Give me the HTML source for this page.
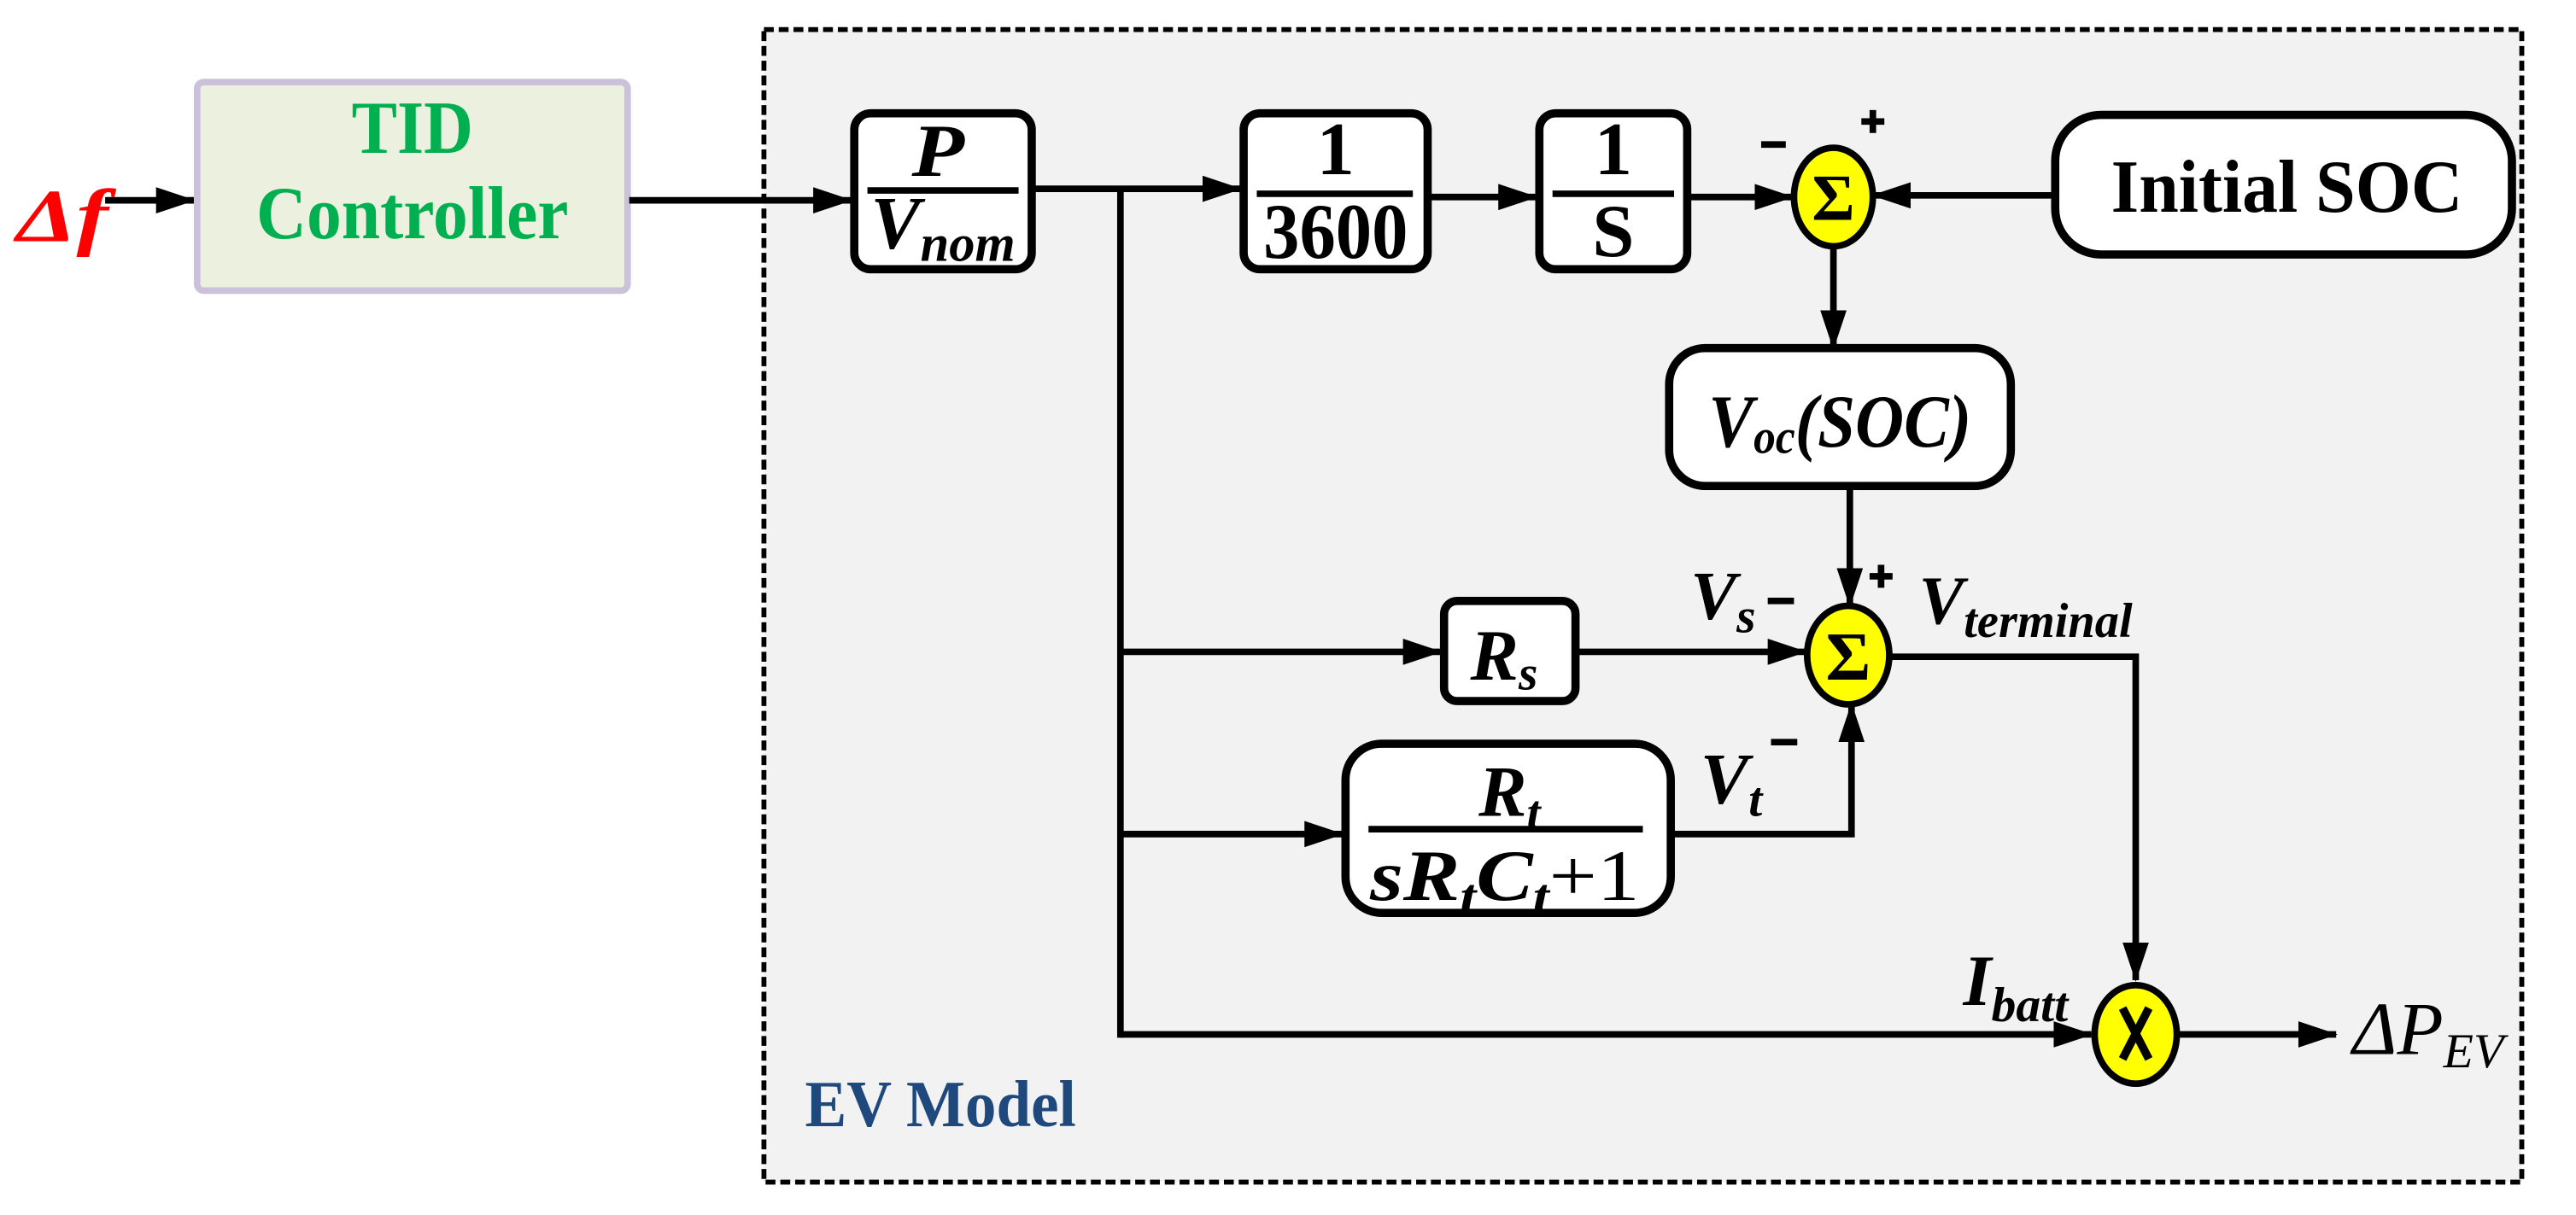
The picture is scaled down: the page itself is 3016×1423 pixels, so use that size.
<!DOCTYPE html>
<html><head><meta charset="utf-8"><style>html,body{margin:0;padding:0;background:#fff}svg{display:block}text{font-family:"Liberation Serif",serif;font-weight:bold}</style></head>
<body>
<svg width="3016" height="1423" viewBox="0 0 1568 740" preserveAspectRatio="none" xmlns="http://www.w3.org/2000/svg">
<defs>
<marker id="a" markerWidth="24" markerHeight="16" refX="23" refY="8" orient="auto" markerUnits="userSpaceOnUse"><path d="M0,0 L24,8 L0,16 Z" fill="#000"/></marker>
</defs>
<rect width="1568" height="740" fill="#fff"/>
<rect x="465" y="18" width="1070" height="702" fill="#f2f2f2" stroke="#000" stroke-width="3" stroke-dasharray="6,3"/>
<text x="490" y="686" fill="#1f497d" font-size="40" textLength="165" lengthAdjust="spacingAndGlyphs">EV Model</text>

<text x="10" y="147" fill="#f00" font-size="46" font-style="italic" textLength="56" lengthAdjust="spacingAndGlyphs">Δf</text>
<line x1="64" y1="122" x2="118" y2="122" stroke="#000" stroke-width="4" marker-end="url(#a)"/>

<rect x="120" y="50" width="262" height="127" rx="4" fill="#ebf1de" stroke="#ccc1da" stroke-width="4"/>
<text x="251" y="93" fill="#00b050" font-size="46" text-anchor="middle" textLength="74" lengthAdjust="spacingAndGlyphs">TID</text>
<text x="251" y="145" fill="#00b050" font-size="46" text-anchor="middle" textLength="190" lengthAdjust="spacingAndGlyphs">Controller</text>
<line x1="383" y1="122" x2="518" y2="122" stroke="#000" stroke-width="4" marker-end="url(#a)"/>

<rect x="520" y="69" width="108" height="95" rx="10" fill="#fff" stroke="#000" stroke-width="5"/>
<text x="555" y="107" font-size="46" font-style="italic" textLength="32" lengthAdjust="spacingAndGlyphs">P</text>
<line x1="528" y1="116" x2="620" y2="116" stroke="#000" stroke-width="4"/>
<text x="530" y="151" font-size="46" font-style="italic" textLength="88" lengthAdjust="spacingAndGlyphs">V<tspan font-size="32" dy="8">nom</tspan></text>

<line x1="630" y1="115" x2="755" y2="115" stroke="#000" stroke-width="4" marker-end="url(#a)"/>
<line x1="682" y1="115" x2="682" y2="632" stroke="#000" stroke-width="4"/>

<rect x="757" y="69" width="112" height="95" rx="10" fill="#fff" stroke="#000" stroke-width="5"/>
<text x="813" y="106" font-size="46" text-anchor="middle" font-weight="normal">1</text>
<line x1="765" y1="118" x2="860" y2="118" stroke="#000" stroke-width="4"/>
<text x="813" y="157" font-size="48" text-anchor="middle" textLength="88" lengthAdjust="spacingAndGlyphs">3600</text>
<line x1="869" y1="120" x2="935" y2="120" stroke="#000" stroke-width="4" marker-end="url(#a)"/>

<rect x="937" y="69" width="90" height="95" rx="10" fill="#fff" stroke="#000" stroke-width="5"/>
<text x="982" y="106" font-size="46" text-anchor="middle" font-weight="normal">1</text>
<line x1="945" y1="118" x2="1019" y2="118" stroke="#000" stroke-width="4"/>
<text x="982" y="156" font-size="46" text-anchor="middle">S</text>
<line x1="1027" y1="120" x2="1091" y2="120" stroke="#000" stroke-width="4" marker-end="url(#a)"/>

<ellipse cx="1116" cy="120" rx="24" ry="30" fill="#ff0" stroke="#000" stroke-width="4"/>
<text x="1116" y="134" font-size="40" text-anchor="middle">Σ</text>
<line x1="1072" y1="88" x2="1087" y2="88" stroke="#000" stroke-width="4"/>
<line x1="1133" y1="74" x2="1147" y2="74" stroke="#000" stroke-width="4"/>
<line x1="1140" y1="67" x2="1140" y2="81" stroke="#000" stroke-width="4"/>

<rect x="1251" y="70" width="278" height="85" rx="28" fill="#fff" stroke="#000" stroke-width="5"/>
<text x="1392" y="129" font-size="46" text-anchor="middle" textLength="214" lengthAdjust="spacingAndGlyphs">Initial SOC</text>
<line x1="1250" y1="119" x2="1140" y2="119" stroke="#000" stroke-width="4" marker-end="url(#a)"/>

<line x1="1116" y1="150" x2="1116" y2="212" stroke="#000" stroke-width="4" marker-end="url(#a)"/>
<rect x="1016" y="212" width="208" height="84" rx="22" fill="#fff" stroke="#000" stroke-width="5"/>
<text x="1040" y="272" font-size="46" font-style="italic" textLength="160" lengthAdjust="spacingAndGlyphs">V<tspan font-size="30" dy="4">oc</tspan><tspan dy="-4">(SOC)</tspan></text>
<line x1="1126" y1="296" x2="1126" y2="369" stroke="#000" stroke-width="4" marker-end="url(#a)"/>

<ellipse cx="1125" cy="399" rx="25" ry="30" fill="#ff0" stroke="#000" stroke-width="4"/>
<text x="1125" y="414" font-size="42" text-anchor="middle">Σ</text>
<line x1="1076" y1="366" x2="1092" y2="366" stroke="#000" stroke-width="4"/>
<line x1="1138" y1="351" x2="1152" y2="351" stroke="#000" stroke-width="4"/>
<line x1="1145" y1="344" x2="1145" y2="358" stroke="#000" stroke-width="4"/>
<text x="1029" y="377" font-size="42" font-style="italic">V<tspan font-size="30" dy="8">s</tspan></text>
<text x="1168" y="380" font-size="42" font-style="italic" textLength="130" lengthAdjust="spacingAndGlyphs">V<tspan font-size="30" dy="8">terminal</tspan></text>

<line x1="682" y1="397" x2="877" y2="397" stroke="#000" stroke-width="4" marker-end="url(#a)"/>
<rect x="879" y="366" width="80" height="61" rx="8" fill="#fff" stroke="#000" stroke-width="5"/>
<text x="895" y="414" font-size="44" font-style="italic">R<tspan font-size="30" dy="6">s</tspan></text>
<line x1="959" y1="397" x2="1099" y2="397" stroke="#000" stroke-width="4" marker-end="url(#a)"/>

<polyline points="1150,400 1300,400 1300,597" fill="none" stroke="#000" stroke-width="4" marker-end="url(#a)"/>

<line x1="682" y1="508" x2="817" y2="508" stroke="#000" stroke-width="4" marker-end="url(#a)"/>
<rect x="819" y="453" width="198" height="103" rx="22" fill="#fff" stroke="#000" stroke-width="5"/>
<text x="900" y="497" font-size="44" font-style="italic">R<tspan font-size="30" dy="8">t</tspan></text>
<line x1="833" y1="505" x2="1000" y2="505" stroke="#000" stroke-width="4"/>
<text x="834" y="548" font-size="44" font-style="italic" textLength="164" lengthAdjust="spacingAndGlyphs">sR<tspan font-size="30" dy="8">t</tspan><tspan dy="-8">C</tspan><tspan font-size="30" dy="8">t</tspan><tspan dy="-8" font-style="normal" font-weight="normal">+1</tspan></text>
<polyline points="1017,508 1127,508 1127,429" fill="none" stroke="#000" stroke-width="4" marker-end="url(#a)"/>
<text x="1035" y="489" font-size="44" font-style="italic">V<tspan font-size="30" dy="8">t</tspan></text>
<line x1="1078" y1="452" x2="1094" y2="452" stroke="#000" stroke-width="4"/>

<line x1="682" y1="630" x2="1273" y2="630" stroke="#000" stroke-width="4" marker-end="url(#a)"/>
<ellipse cx="1300" cy="630" rx="25" ry="30" fill="#ff0" stroke="#000" stroke-width="4"/>
<line x1="1292" y1="614" x2="1308" y2="645" stroke="#000" stroke-width="5"/>
<line x1="1308" y1="614" x2="1292" y2="645" stroke="#000" stroke-width="5"/>
<text x="1195" y="612" font-size="44" font-style="italic">I<tspan font-size="30" dy="10">batt</tspan></text>
<line x1="1325" y1="630" x2="1422" y2="630" stroke="#000" stroke-width="4" marker-end="url(#a)"/>
<text x="1432" y="642" font-size="46" font-style="italic" font-weight="normal" style="font-weight:normal" textLength="92" lengthAdjust="spacingAndGlyphs">ΔP<tspan font-size="30" dy="8">EV</tspan></text>
</svg>
</body></html>
